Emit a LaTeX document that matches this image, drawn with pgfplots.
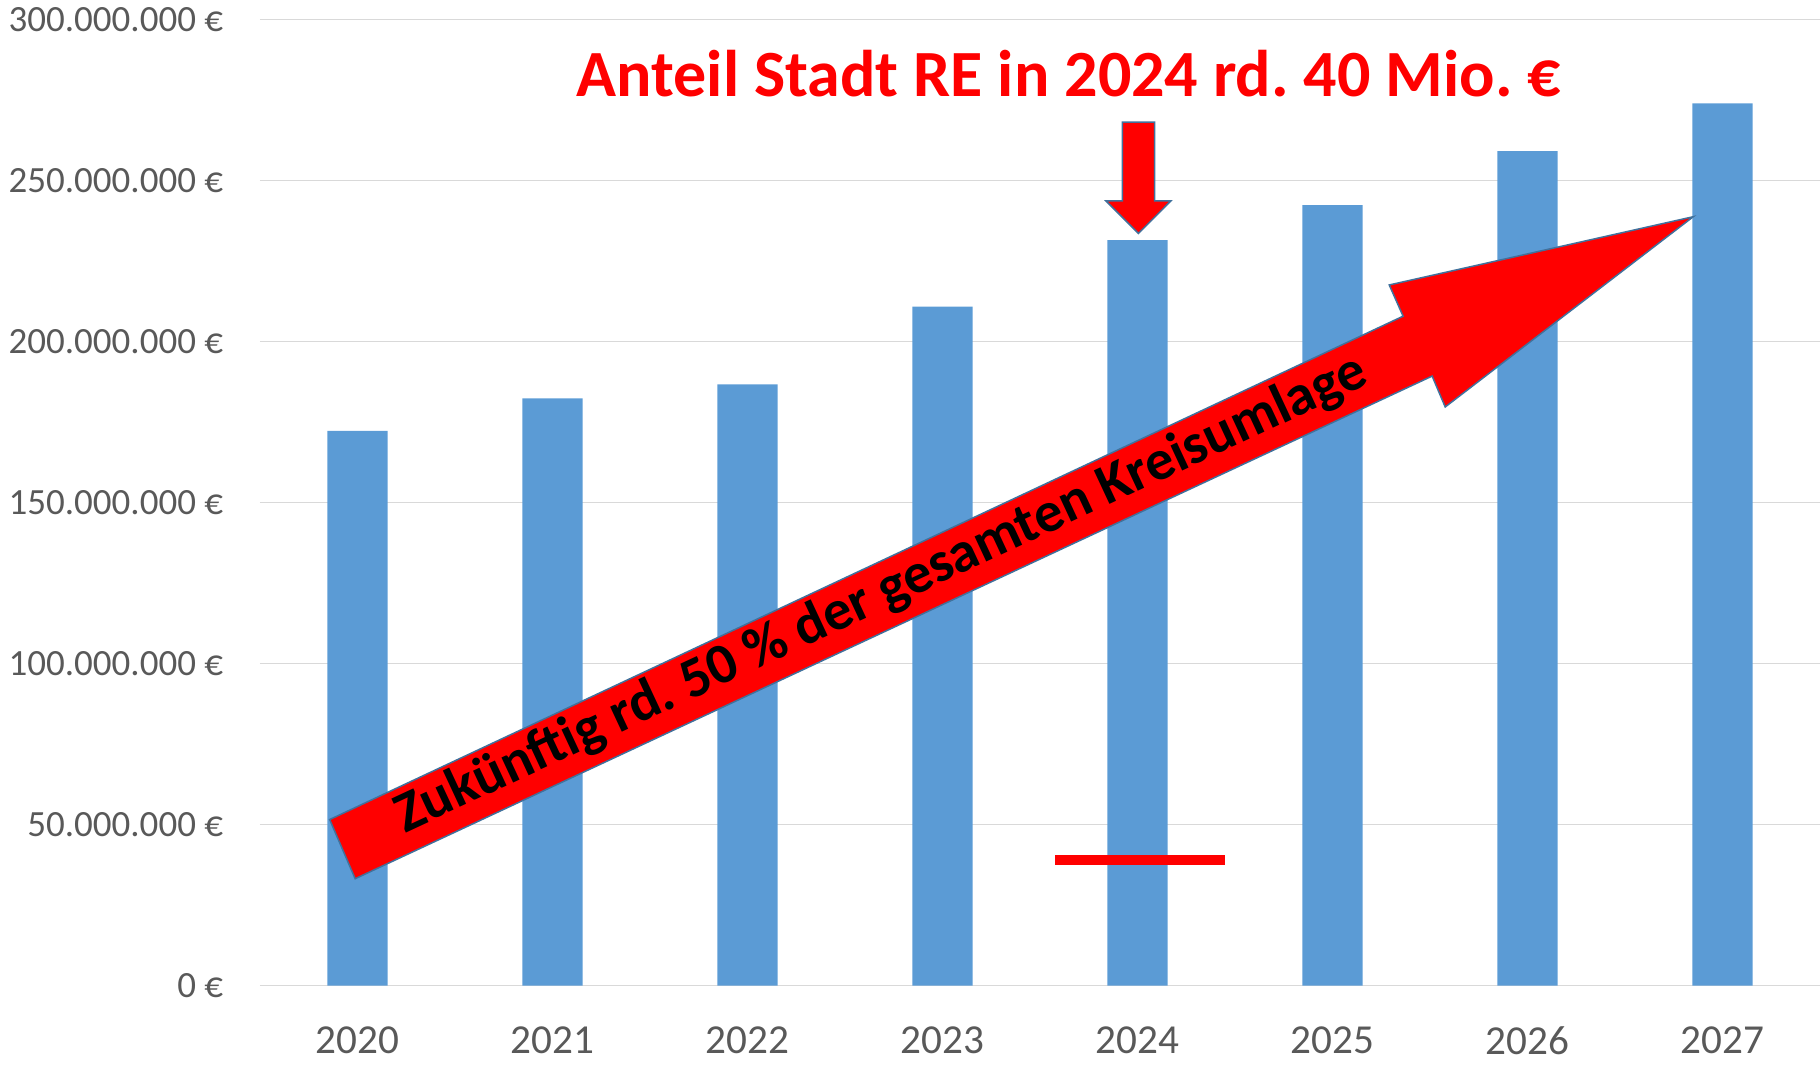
\documentclass[border=0pt]{standalone}
\usepackage{fontspec}
\setmainfont{Carlito}
\usepackage{pgfplots}
\pgfplotsset{compat=1.18}
\definecolor{barblue}{HTML}{5B9BD5}
\definecolor{gridgray}{HTML}{D9D9D9}
\definecolor{txtgray}{HTML}{595959}
\definecolor{edgeblue}{HTML}{41719C}
\frenchspacing
\begin{document}
\begin{tikzpicture}
\begin{axis}[
  at={(0,0)}, anchor=south west,
  width=780pt, height=482.9pt, scale only axis,
  xmin=-0.5, xmax=7.5, ymin=0, ymax=300,
  axis line style={draw=none},
  major tick length=0pt,
  xtick={0,...,7},
  xticklabels={2020,2021,2022,2023,2024,2025,2026,2027},
  ytick={0,50,...,300},
  yticklabels={0 €, 50.000.000 €, 100.000.000 €, 150.000.000 €, 200.000.000 €, 250.000.000 €, 300.000.000 €},
  ymajorgrids,
  grid style={gridgray, line width=0.8pt},
  xticklabel style={font=\fontsize{20.6}{24}\selectfont, text=txtgray, yshift=-17pt},
  yticklabel style={font=\fontsize{18.5}{22}\selectfont, text=txtgray, xshift=-14.9pt},
  clip=false,
]
\addplot[ybar, bar width=0.31, fill=barblue, draw=none] coordinates {
  (0,172.3) (1,182.4) (2,186.7) (3,210.9) (4,231.5) (5,242.4) (6,259.2) (7,274.0)};
\addplot[red, line width=4.6pt, no markers] coordinates {(3.577,39) (4.449,39)};
% small down arrow
\addplot[fill=red, draw=edgeblue, line width=0.75pt, no markers] coordinates {
  (3.922,268.2) (4.088,268.2) (4.088,243.7) (4.171,243.7) (4.005,233.6)
  (3.838,243.7) (3.922,243.7)} -- cycle;
% big arrow
\addplot[fill=red, draw=edgeblue, line width=0.75pt, no markers] coordinates {
  (-0.1426,51.55) (5.362,207.9) (5.291,217.6) (6.850,238.8)
  (5.578,179.7) (5.511,189.3) (-0.0119,33.17)} -- cycle;
\node[rotate=25, font=\bfseries\fontsize{28.5}{32}\selectfont] at (axis cs:2.686,121.5) {Zukünftig rd. 50 \% der gesamten Kreisumlage};
\node[anchor=base, text=red, font=\bfseries\fontsize{33}{38}\selectfont] at (axis cs:3.648,276.2) {Anteil Stadt RE in 2024 rd. 40 Mio. €};
\end{axis}
\pgfresetboundingbox
\path (-130pt,-39.75pt) rectangle (780pt,492.75pt);
\end{tikzpicture}
\end{document}
